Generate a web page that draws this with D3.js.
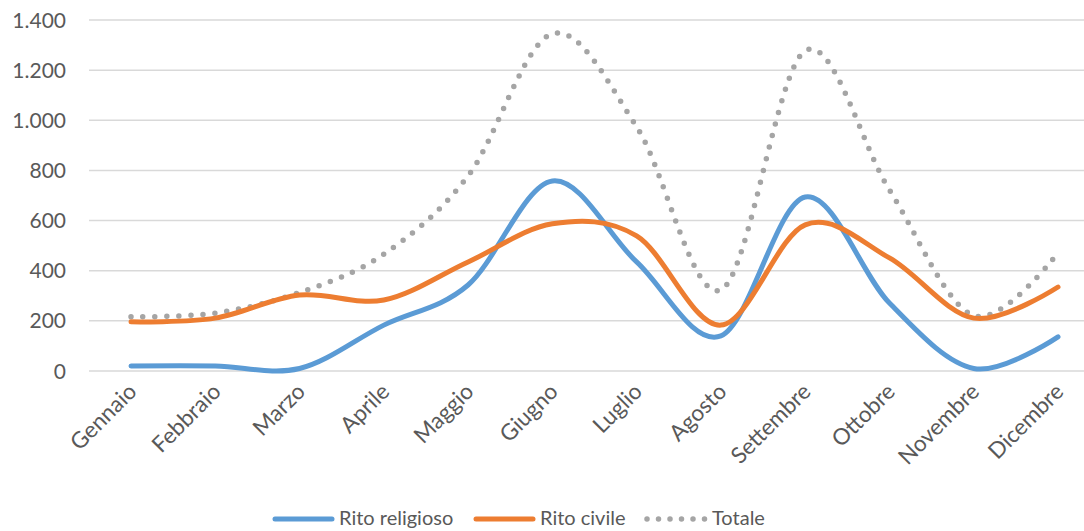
<!DOCTYPE html>
<html>
<head>
<meta charset="utf-8">
<script src="https://cdn.jsdelivr.net/npm/d3@7"></script>
<style>
  body { margin: 0; background: #fff; }
  svg text { font-family: Lato, "Open Sans", sans-serif; fill: #595959; }
</style>
</head>
<body>
<svg id="chart" width="1084" height="531"></svg>
<script>
// Data.
var months = ["Gennaio", "Febbraio", "Marzo", "Aprile", "Maggio", "Giugno",
  "Luglio", "Agosto", "Settembre", "Ottobre", "Novembre", "Dicembre"];
var religioso = [20, 20, 10, 183, 343, 758, 435, 140, 694, 271, 10, 136];
var civile = [196, 211, 303, 283, 435, 587, 539, 183, 583, 451, 211, 335];
var totale = [216, 231, 313, 466, 778, 1345, 974, 323, 1277, 722, 221, 471];
var yTicks = [0, 200, 400, 600, 800, 1000, 1200, 1400];

var series = [
  { name: "Rito religioso", values: religioso, color: "#5B9BD5", dotted: false },
  { name: "Rito civile", values: civile, color: "#ED7D31", dotted: false },
  { name: "Totale", values: totale, color: "#A5A5A5", dotted: true }
];

var svg = d3.select("#chart");
var fmt = d3.format(",.0f");
var itFmt = function (v) { return fmt(v).replace(/,/g, "."); };

var x = d3.scalePoint().domain(months).range([131, 1058]);
var y = d3.scaleLinear().domain([0, 1400]).range([371, 20]);

// Gridlines + y labels.
var gy = svg.append("g");
gy.selectAll("line").data(yTicks).enter().append("line")
  .attr("x1", 89).attr("x2", 1084)
  .attr("y1", d => y(d)).attr("y2", d => y(d))
  .attr("stroke", "#D9D9D9").attr("stroke-width", 1.5);
gy.selectAll("text").data(yTicks).enter().append("text")
  .attr("x", 66).attr("y", d => y(d)).attr("dy", "0.36em")
  .attr("text-anchor", "end").style("font-size", "21px")
  .text(d => itFmt(d));

// X labels rotated.
svg.append("g").selectAll("text").data(months).enter().append("text")
  .attr("transform", d => "translate(" + (x(d) + 7) + ",393) rotate(-45)")
  .attr("text-anchor", "end").style("font-size", "22.5px")
  .text(d => d);

var line = d3.line()
  .x((d, i) => x(months[i]))
  .y(d => y(d))
  .curve(d3.curveCardinal.tension(0));

// Draw totale first so solid lines sit on top.
var order = [series[2], series[0], series[1]];
order.forEach(function (s) {
  var p = svg.append("path")
    .attr("d", line(s.values))
    .attr("fill", "none")
    .attr("stroke", s.color)
    .attr("stroke-linecap", "round");
  if (s.dotted) {
    p.attr("stroke-width", 5.5).attr("stroke-dasharray", "0 12");
  } else {
    p.attr("stroke-width", 5);
  }
});

// Legend.
var legendX = [272, 473, 645];
var lg = svg.append("g");
series.forEach(function (s, i) {
  var lx = legendX[i];
  var l = lg.append("line")
    .attr("x1", lx + 3).attr("x2", lx + 60)
    .attr("y1", 519).attr("y2", 519)
    .attr("stroke", s.color).attr("stroke-linecap", "round");
  if (s.dotted) {
    l.attr("stroke-width", 5.5).attr("stroke-dasharray", "0 11.5").attr("x1", lx + 2).attr("x2", lx + 60);
  } else {
    l.attr("stroke-width", 5);
  }
  lg.append("text")
    .attr("x", lx + 67).attr("y", 518).attr("dy", "0.36em")
    .style("font-size", "20px")
    .text(s.name);
});
</script>
</body>
</html>
